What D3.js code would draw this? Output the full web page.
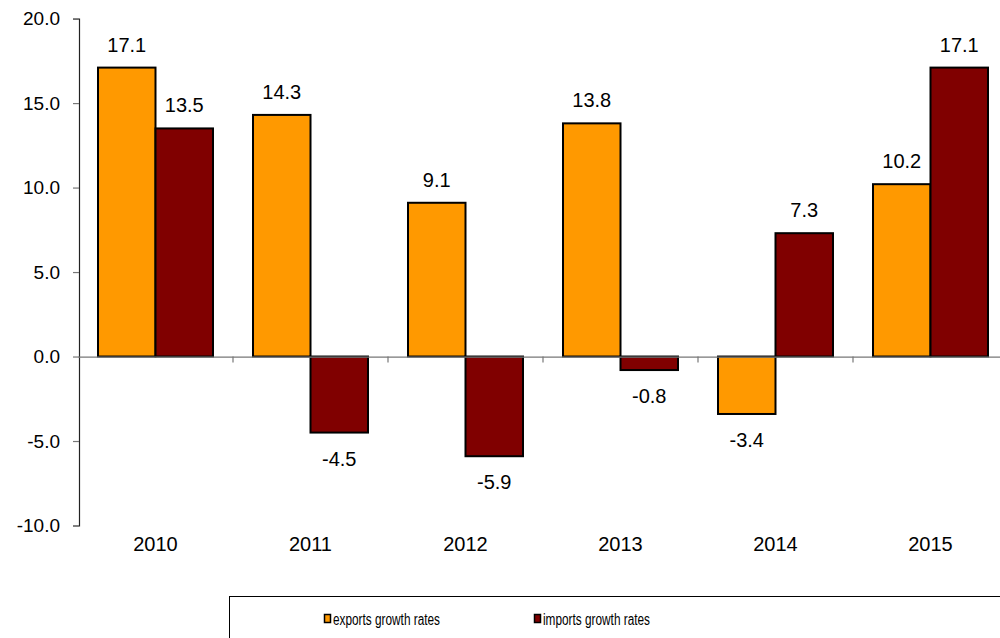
<!DOCTYPE html>
<html>
<head>
<meta charset="utf-8">
<script src="https://cdn.jsdelivr.net/npm/d3@7"></script>
<style>
  html, body { margin: 0; padding: 0; background: #fff; }
  svg { display: block; }
  text { font-family: Arial, "Liberation Sans", sans-serif; fill: #000; }
</style>
</head>
<body>
<svg id="chart" width="1000" height="638"></svg>
<script>
const years = ["2010", "2011", "2012", "2013", "2014", "2015"];
const seriesNames = ["exports growth rates", "imports growth rates"];
const exportsGrowth = [17.1, 14.3, 9.1, 13.8, -3.4, 10.2];
const importsGrowth = [13.5, -4.5, -5.9, -0.8, 7.3, 17.1];
const yTicks = [-10, -5, 0, 5, 10, 15, 20];
const colors = ["#FF9900", "#800000"];

const fmt = v => v.toFixed(1);

const svg = d3.select("#chart");
const seriesValues = [exportsGrowth, importsGrowth];

const y = d3.scaleLinear().domain([-10, 20]).range([525.5, 18.6]);
const x0 = d3.scaleBand().domain(years).range([78, 1008]).paddingInner(0).paddingOuter(0);
const x1 = d3.scaleBand().domain([0, 1]).range([0, x0.bandwidth()]).paddingInner(0).paddingOuter(0.348);

// Y axis
const yAxis = d3.axisLeft(y).tickValues(yTicks).tickFormat(fmt).tickSize(6).tickPadding(13);
const gy = svg.append("g").attr("transform", "translate(79,0)").call(yAxis);
gy.select(".domain").attr("stroke", "#222").attr("stroke-width", 1.2);
gy.selectAll(".tick line").attr("stroke", "#777").attr("stroke-width", 1.2);
gy.selectAll(".tick text").attr("font-size", 19).attr("font-family", "Arial, 'Liberation Sans', sans-serif").attr("fill", "#000");

// Bars
years.forEach((yr, i) => {
  const g = svg.append("g").attr("transform", `translate(${x0(yr)},0)`);
  seriesValues.forEach((vals, s) => {
    const v = vals[i];
    g.append("rect")
      .attr("x", x1(s))
      .attr("width", x1.bandwidth())
      .attr("y", Math.min(y(v), y(0)))
      .attr("height", Math.abs(y(v) - y(0)))
      .attr("fill", colors[s])
      .attr("stroke", "#000")
      .attr("stroke-width", 2);
    g.append("text")
      .attr("x", x1(s) + x1.bandwidth() / 2)
      .attr("y", v >= 0 ? y(v) - 16 : y(v) + 33)
      .attr("text-anchor", "middle")
      .attr("font-size", 20)
      .text(fmt(v));
  });
});

// Zero line and category ticks
const xAxis = d3.axisBottom(x0).tickSize(0).tickFormat("");
const gx = svg.append("g").attr("transform", `translate(0,${y(0)})`).call(xAxis);
gx.select(".domain").attr("stroke", "#777").attr("stroke-width", 1.2);
gx.selectAll(".tick").remove();
years.forEach((yr, i) => {
  if (i === 0) return;
  svg.append("line")
    .attr("x1", x0(yr)).attr("x2", x0(yr))
    .attr("y1", y(0)).attr("y2", y(0) + 6)
    .attr("stroke", "#777").attr("stroke-width", 1.2);
});

// Year labels
svg.append("g").selectAll("text").data(years).join("text")
  .attr("x", d => x0(d) + x0.bandwidth() / 2)
  .attr("y", 551)
  .attr("text-anchor", "middle")
  .attr("font-size", 20)
  .text(d => d);

// Legend
const lg = svg.append("g").attr("class", "legend");
lg.append("rect").attr("x", 229.5).attr("y", 596.5).attr("width", 800).attr("height", 80)
  .attr("fill", "#fff").attr("stroke", "#000").attr("stroke-width", 1);
const legendX = [324, 534];
seriesNames.forEach((name, s) => {
  lg.append("rect").attr("x", legendX[s] + 0.5).attr("y", 614.5).attr("width", 6).attr("height", 8)
    .attr("fill", colors[s]).attr("stroke", "#000").attr("stroke-width", 1.5);
  lg.append("text").attr("x", legendX[s] + 9).attr("y", 625)
    .attr("font-size", 16)
    .attr("textLength", 107)
    .attr("lengthAdjust", "spacingAndGlyphs")
    .text(name);
});
</script>
</body>
</html>
